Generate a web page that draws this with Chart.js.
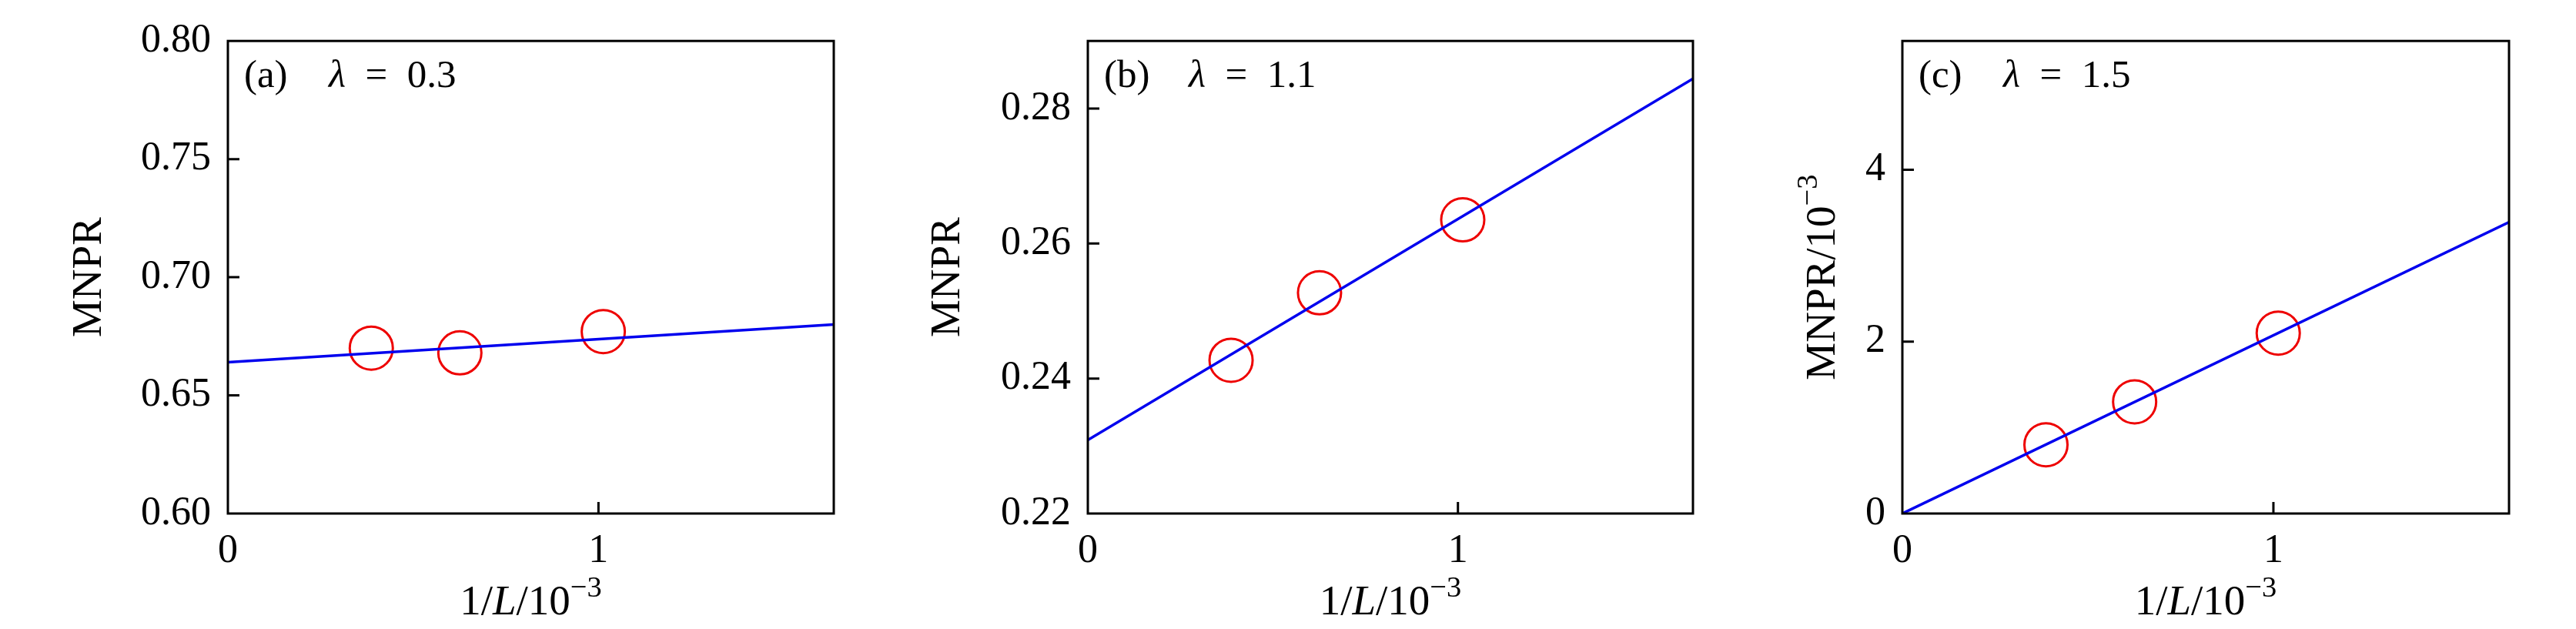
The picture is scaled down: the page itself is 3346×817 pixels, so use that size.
<!DOCTYPE html>
<html>
<head>
<meta charset="utf-8">
<script src="https://cdn.jsdelivr.net/npm/chart.js@4.4.1/dist/chart.umd.min.js"></script>
<style>
  html, body { margin: 0; padding: 0; background: #fff; }
  #wrap { position: relative; width: 3346px; height: 817px; overflow: hidden; }
  .pane { position: absolute; top: 0; }
</style>
</head>
<body>
<div id="wrap">
  <canvas id="pa" class="pane" width="1115" height="817" style="left:0px"></canvas>
  <canvas id="pb" class="pane" width="1115" height="817" style="left:1115px"></canvas>
  <canvas id="pc" class="pane" width="1116" height="817" style="left:2230px"></canvas>
</div>
<script>
/* MNPR vs 1/L, three lambda values — red circles are data, blue line is the linear fit. */

// 1/L in units of 1e-3, L = 2584, 1597, 987
const L_INV = [0.387, 0.626, 1.013];
const MNPR_A = [0.670, 0.668, 0.677];
const MNPR_B = [0.2427, 0.2527, 0.2635];
const MNPR_C = [0.80, 1.30, 2.10];      // in units of 1e-3

const FIT_X = [0, 1.635];
const FIT_A = [0.664, 0.680];
const FIT_B = [0.2309, 0.2844];
const FIT_C = [0, 3.39];

const X_TICKS = [0, 1];
const Y_TICKS_A = [0.60, 0.65, 0.70, 0.75, 0.80];
const Y_TICKS_B = [0.22, 0.24, 0.26, 0.28];
const Y_TICKS_C = [0, 2, 4];

const TAGS = ["(a)", "(b)", "(c)"];
const LAMBDAS = ["0.3", "1.1", "1.5"];

const FONT = "'Liberation Serif', 'DejaVu Serif', serif";
const RED = "#ee0000";
const BLUE = "#0000ee";

// draws a list of text pieces: { t, it (italic), sup (superscript) }
function drawRich(ctx, segs, x, y, size, align) {
  const fontOf = (s) => `${s.it ? "italic " : ""}${s.sup ? size * 0.7 : size}px ${FONT}`;
  let total = 0;
  segs.forEach((s) => { ctx.font = fontOf(s); total += ctx.measureText(s.t).width; });
  let cx = align === "left" ? x : x - total / 2;
  ctx.textBaseline = "alphabetic";
  ctx.textAlign = "left";
  segs.forEach((s) => {
    ctx.font = fontOf(s);
    ctx.fillText(s.t, cx, s.sup ? y - size * 0.42 : y);
    cx += ctx.measureText(s.t).width;
  });
}

const framePlugin = {
  id: "frame",
  afterDatasetsDraw(chart, args, opts) {
    const { ctx, chartArea: a, scales } = chart;
    ctx.save();
    ctx.strokeStyle = "#000";
    ctx.lineWidth = 3;
    ctx.beginPath();
    // inward tick marks
    scales.y.ticks.forEach((t) => {
      const py = scales.y.getPixelForValue(t.value);
      if (Math.abs(py - a.top) < 2 || Math.abs(py - a.bottom) < 2) return;
      ctx.moveTo(a.left, py); ctx.lineTo(a.left + 15, py);
    });
    scales.x.ticks.forEach((t) => {
      const px = scales.x.getPixelForValue(t.value);
      if (Math.abs(px - a.left) < 2 || Math.abs(px - a.right) < 2) return;
      ctx.moveTo(px, a.bottom); ctx.lineTo(px, a.bottom - 15);
    });
    ctx.stroke();
    ctx.strokeRect(a.left, a.top, a.right - a.left, a.bottom - a.top);

    ctx.fillStyle = "#000";
    // panel tag and lambda
    drawRich(ctx, [{ t: opts.tag }], a.left + 21, a.top + 60, 51, "left");
    drawRich(ctx, [{ t: "λ", it: true }, { t: "\u2002=\u2002" + opts.lambda }], a.left + 131, a.top + 60, 51, "left");
    // x title
    drawRich(ctx, [{ t: "1/" }, { t: "L", it: true }, { t: "/10" }, { t: "−3", sup: true }],
      (a.left + a.right) / 2, a.bottom + 131, 55);
    // y title, rotated
    ctx.save();
    ctx.translate(a.left - opts.yTitleGap, (a.top + a.bottom) / 2);
    ctx.rotate(-Math.PI / 2);
    drawRich(ctx, opts.yTitle, 0, 0, 55);
    ctx.restore();
    ctx.restore();
  },
};

function makePanel(id, o) {
  new Chart(document.getElementById(id), {
    type: "scatter",
    data: {
      datasets: [
        {
          data: FIT_X.map((x, i) => ({ x, y: o.fit[i] })),
          showLine: true,
          borderColor: BLUE,
          borderWidth: 3.5,
          pointRadius: 0,
          fill: false,
        },
        {
          data: L_INV.map((x, i) => ({ x, y: o.pts[i] })),
          showLine: false,
          pointRadius: 28,
          pointBorderWidth: 3,
          pointBorderColor: RED,
          pointBackgroundColor: "rgba(0,0,0,0)",
        },
      ],
    },
    options: {
      responsive: false,
      animation: false,
      events: [],
      layout: { padding: { top: 37, right: o.right, left: 0, bottom: 0 } },
      plugins: {
        legend: { display: false },
        tooltip: { enabled: false },
        frame: { tag: o.tag, lambda: o.lambda, yTitle: o.yTitle, yTitleGap: o.yTitleGap },
      },
      scales: {
        x: {
          type: "linear",
          min: 0, max: FIT_X[1],
          grid: { display: false, drawTicks: false },
          border: { display: false },
          afterBuildTicks: (s) => { s.ticks = X_TICKS.map((v) => ({ value: v })); },
          afterFit: (s) => { s.height = 150; },
          ticks: { color: "#000", padding: 18, font: { family: FONT, size: 52 }, callback: (v) => String(v) },
        },
        y: {
          type: "linear",
          min: o.yMin, max: o.yMax,
          grid: { display: false, drawTicks: false },
          border: { display: false },
          afterBuildTicks: (s) => { s.ticks = o.yTicks.map((v) => ({ value: v })); },
          afterFit: (s) => { s.width = o.left; },
          ticks: { color: "#000", padding: 22, font: { family: FONT, size: 52 }, callback: (v) => v.toFixed(o.dec) },
        },
      },
    },
    plugins: [framePlugin],
  });
}

makePanel("pa", {
  pts: MNPR_A, fit: FIT_A, yTicks: Y_TICKS_A, yMin: 0.60, yMax: 0.80, dec: 2,
  left: 296, right: 32, tag: TAGS[0], lambda: LAMBDAS[0],
  yTitle: [{ t: "MNPR" }], yTitleGap: 165,
});
makePanel("pb", {
  pts: MNPR_B, fit: FIT_B, yTicks: Y_TICKS_B, yMin: 0.22, yMax: 0.29, dec: 2,
  left: 298, right: 31, tag: TAGS[1], lambda: LAMBDAS[1],
  yTitle: [{ t: "MNPR" }], yTitleGap: 167,
});
makePanel("pc", {
  pts: MNPR_C, fit: FIT_C, yTicks: Y_TICKS_C, yMin: 0, yMax: 5.5, dec: 0,
  left: 241, right: 87, tag: TAGS[2], lambda: LAMBDAS[2],
  yTitle: [{ t: "MNPR/10" }, { t: "−3", sup: true }], yTitleGap: 88,
});
</script>
</body>
</html>
